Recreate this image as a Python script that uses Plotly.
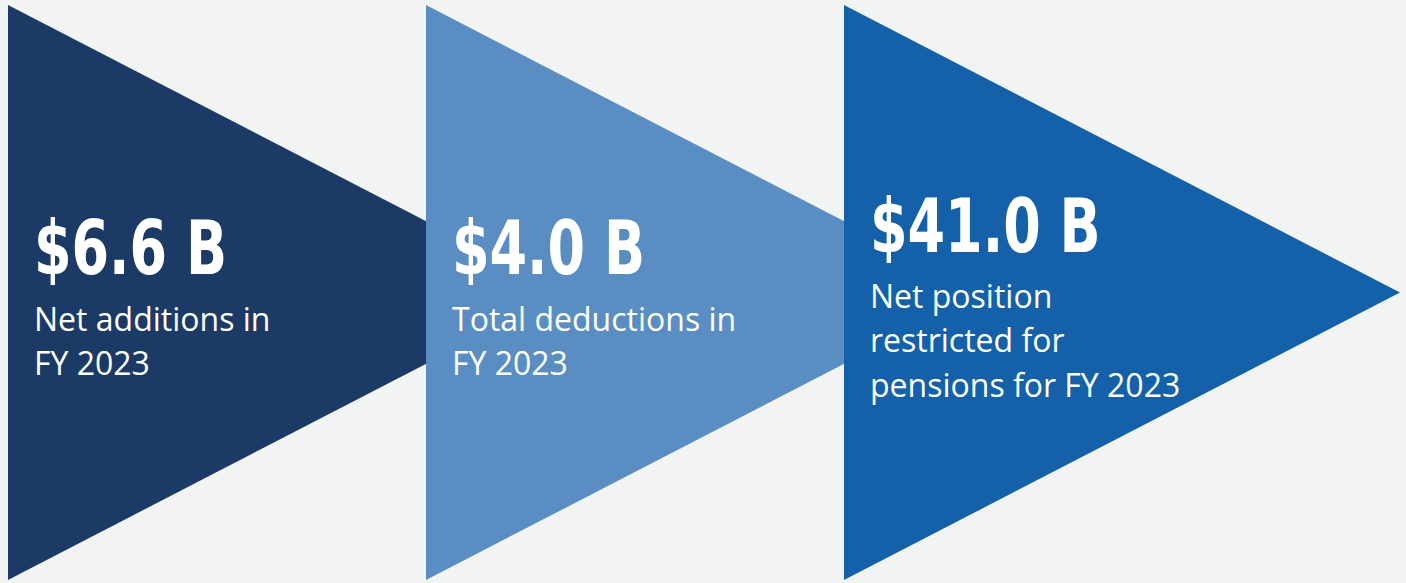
import plotly.graph_objects as go

values = ["$6.6 B", "$4.0 B", "$41.0 B"]
descriptions = [
    ["Net additions in", "FY 2023"],
    ["Total deductions in", "FY 2023"],
    ["Net position", "restricted for", "pensions for FY 2023"],
]
colors = ["#1b3a66", "#5a8ec2", "#1561a9"]

W, H = 1406, 583
x_starts = [8, 426, 844]
tri_w = 556
top, bottom = 5, 580
mid = (top + bottom) / 2
value_y = [248, 248, 226]
desc_y0 = [318, 318, 295]
line_gap = 44.5
VALUE_FONT = "DejaVu Sans Condensed, Liberation Sans Narrow, Roboto Condensed, DejaVu Sans"

fig = go.Figure()
for i, (v, lines, c) in enumerate(zip(values, descriptions, colors)):
    x0 = x_starts[i]
    fig.add_trace(go.Scatter(
        x=[x0, x0 + tri_w, x0, x0], y=[top, mid, bottom, top],
        fill="toself", fillcolor=c, mode="lines", line=dict(width=0),
        hoverinfo="skip", showlegend=False))
    fig.add_annotation(x=x0 + 24, y=value_y[i], text="<b>" + v + "</b>",
                       xanchor="left", yanchor="middle", showarrow=False,
                       font=dict(family=VALUE_FONT, size=75, color="white"))
    for j, line in enumerate(lines):
        fig.add_annotation(x=x0 + 24, y=desc_y0[i] + j * line_gap, text=line,
                           xanchor="left", yanchor="middle", showarrow=False,
                           font=dict(family="Open Sans", size=32, color="white"))

fig.update_layout(
    width=W, height=H, margin=dict(l=0, r=0, t=0, b=0),
    paper_bgcolor="#f2f3f3", plot_bgcolor="#f2f3f3",
    xaxis=dict(range=[0, W], visible=False, fixedrange=True),
    yaxis=dict(range=[H, 0], visible=False, fixedrange=True),
)

post = """
document.body.style.margin='0';
document.body.style.background='#f2f3f3';
document.querySelectorAll('text.annotation-text').forEach(function(t){
  if (t.style.fontSize === '75px') {
    t.style.transformBox = 'fill-box';
    t.style.transformOrigin = '0% 50%';
    t.style.transform = 'scaleX(0.8)';
  }
});
"""
fig.write_html("out.html", config={"displayModeBar": False}, post_script=post)
